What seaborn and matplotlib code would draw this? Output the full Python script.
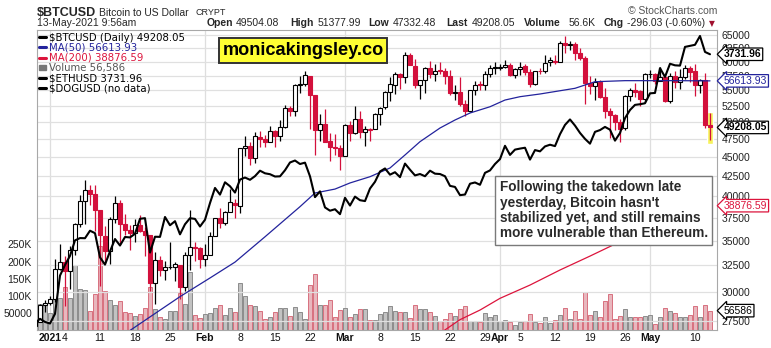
import numpy as np
import pandas as pd
import matplotlib
matplotlib.use("Agg")
import matplotlib.pyplot as plt
import seaborn as sns
from matplotlib.ticker import FixedLocator, NullLocator, FuncFormatter
from matplotlib.lines import Line2D
from matplotlib.patches import Patch
from matplotlib.transforms import blended_transform_factory

# ---------------- data ----------------
dates = pd.date_range("2020-12-29", "2021-05-13", freq="D")

opens = [
    27081, 27360, 28841,
    28994, 29376, 32130, 32810, 31977, 34013, 36834, 39381, 40788, 40254,
    38346, 35516, 33915, 37325, 39156, 36821, 36163, 35792, 36642, 36050,
    35549, 30817, 32986, 32064, 32285, 32358, 32564, 30442, 33498, 34295, 34270,
    33114, 33533, 35510, 37475, 36931, 38138, 39250, 38886, 46184, 46469,
    44898, 47877, 47491, 47114, 48696, 47944, 49207, 52140, 51676, 55887,
    56068, 57532, 54204, 48835, 49709, 47180, 46344, 46194,
    45159, 49612, 48415, 50522, 48527, 48899, 48918, 51174, 52273, 54824,
    55963, 57821, 57343, 61221, 59267, 55840, 56825, 58893, 57850, 58332,
    58309, 57517, 54511, 54710, 52726, 51683, 55137, 55975, 55947, 57750, 58930,
    58927, 59099, 59398, 57604, 58761, 59171, 58187, 56099, 58326, 58253,
    59846, 60175, 59890, 63523, 63075, 63258, 61529, 60701, 56191, 55681,
    56471, 53857, 51739, 51143, 50052, 49077, 54030, 55036, 54858, 53568,
    57714, 57825, 56620, 57215, 53252, 57441, 56413, 57352, 58877, 58250,
    55848, 56714, 49504.08,
]
highs = [
    27370, 28937, 29244,
    29600, 33155, 34608, 33440, 34437, 36879, 40180, 41946, 41436, 41420,
    38346, 36568, 37600, 39966, 39577, 37864, 36722, 37299, 37755, 36416,
    35553, 33811, 33360, 32944, 34802, 32794, 32564, 33858, 38406, 34834, 34288,
    34638, 35896, 37480, 38592, 38225, 40846, 39621, 46203, 48004, 47145,
    48463, 48745, 48047, 49487, 48875, 50341, 52618, 52533, 56114, 57505,
    58330, 57533, 54204, 51290, 51948, 48370, 48253, 46716,
    49784, 50128, 52536, 51735, 49396, 49147, 51384, 52314, 54904, 57258,
    58091, 58011, 61683, 61597, 60540, 56833, 58970, 60116, 59498, 59888,
    58767, 58471, 55985, 57262, 53392, 55137, 56568, 56610, 58343, 59447, 59930,
    59586, 60267, 59792, 58913, 59891, 59479, 58731, 58339, 58937, 61276,
    60790, 61253, 63742, 64863, 63821, 63594, 62572, 61057, 57520, 57062,
    56757, 55411, 52121, 51167, 50506, 54288, 55416, 56227, 55115, 57900,
    58448, 57902, 58973, 57215, 57911, 58364, 58606, 59464, 59210, 59519,
    56872, 57939, 51377.99,
]
lows = [
    25987, 27360, 28201,
    28803, 29091, 32052, 28722, 30221, 33514, 36491, 36838, 38980, 35984,
    30549, 32697, 32584, 36868, 34659, 35633, 34069, 34883, 35900, 33407,
    30071, 28953, 31493, 31106, 32087, 31030, 29367, 30023, 32064, 32940, 32270,
    32384, 33489, 35443, 36317, 36658, 38138, 37446, 38076, 45166, 43881,
    44187, 46424, 46392, 47114, 46347, 47201, 49072, 50902, 50876, 54626,
    55673, 48967, 45290, 47213, 47093, 44454, 45269, 43241,
    45115, 47228, 48274, 47656, 46543, 47257, 48918, 49506, 51981, 53290,
    54484, 55321, 56217, 59302, 55393, 53555, 54528, 57023, 56643, 57830,
    56005, 54288, 53470, 52515, 50856, 51579, 54242, 55072, 55140, 57251, 57727,
    58505, 58870, 57428, 57168, 57694, 57646, 55604, 55879, 57807, 58038,
    59289, 59589, 59869, 61554, 62208, 60222, 60361, 52829, 54368, 53448,
    53695, 50583, 47714, 48805, 47159, 48852, 53319, 53887, 52418, 53129,
    57052, 56141, 56590, 53191, 52969, 55382, 55321, 56975, 56482, 54071,
    54608, 49150, 47332.48,
]
closes = [
    27362, 28840, 29001,
    29374, 32127, 32782, 31971, 33992, 36824, 39371, 40797, 40254, 38356,
    35566, 33922, 37316, 39187, 36825, 36178, 35792, 36630, 36069, 35548,
    30825, 33006, 32068, 32289, 32367, 32569, 30432, 33466, 34316, 34269, 33115,
    33515, 35510, 37473, 36926, 38144, 39266, 38903, 46196, 46481, 44919,
    47910, 47504, 47105, 48717, 47945, 49199, 52149, 51679, 55888, 56100,
    57539, 54207, 48825, 49705, 47093, 46339, 46188, 45137,
    49631, 48378, 50538, 48561, 48927, 48912, 51206, 52246, 54824, 56008,
    57805, 57332, 61243, 59302, 55907, 56804, 58870, 57858, 58346, 58313,
    57523, 54529, 54738, 52774, 51704, 55137, 55974, 55948, 57750, 58917, 58918,
    59095, 59384, 57603, 58758, 59057, 58192, 56048, 58323, 58245, 59793,
    60204, 59893, 63503, 63110, 63314, 61572, 60683, 56216, 55724, 56473,
    53906, 51763, 51093, 50050, 49004, 54021, 55033, 54824, 53555, 57750,
    57828, 56631, 57200, 53333, 57424, 56397, 57356, 58803, 58232, 55859,
    56704, 49504.08, 49208.05,
]
volumes = [
    72000, 75000, 72000,
    50000, 110000, 94000, 125000, 94000, 191000, 121000, 116000, 55000, 104000,
    245000, 113000, 89000, 72000, 86000, 53000, 50000, 40000, 47000, 63000,
    125000, 62000, 37000, 31000, 57000, 57000, 108000, 76000, 169000, 45000, 34000,
    47000, 50000, 63000, 72000, 44000, 63000, 52000, 136000, 98000, 72000,
    69000, 57000, 31000, 37000, 53000, 63000, 65000, 40000, 68000, 53000,
    31000, 131000, 165000, 72000, 72000, 89000, 37000, 59000,
    63000, 39000, 48000, 60000, 60000, 28000, 30000, 47000, 52000, 69000,
    57000, 52000, 53000, 34000, 72000, 60000, 60000, 52000, 40000, 26000,
    31000, 49000, 42000, 60000, 69000, 26000, 26000, 23000, 49000, 37000, 45000,
    26000, 28000, 23000, 16000, 23000, 26000, 48000, 23000, 20000, 37000,
    20000, 28000, 45000, 63000, 31000, 55000, 31000, 110000, 45000, 55000,
    39000, 84000, 104000, 31000, 42000, 60000, 39000, 39000, 39000, 42000,
    45000, 19000, 39000, 63000, 55000, 49000, 39000, 37000, 43000, 69000,
    39000, 72000, 56586,
]
eth_closes = [
    731, 751, 737,
    730, 774, 976, 1041, 1100, 1208, 1225, 1224, 1281, 1262,
    1090, 1043, 1130, 1218, 1171, 1233, 1230, 1257, 1377, 1382,
    1122, 1235, 1234, 1392, 1324, 1357, 1253, 1332, 1382, 1376, 1314,
    1369, 1515, 1660, 1594, 1718, 1677, 1614, 1746, 1768, 1744,
    1783, 1843, 1814, 1804, 1779, 1781, 1848, 1937, 1960, 1919,
    1935, 1781, 1570, 1626, 1475, 1446, 1459, 1416,
    1564, 1492, 1575, 1541, 1533, 1654, 1723, 1834, 1868, 1799,
    1826, 1772, 1924, 1854, 1791, 1806, 1782, 1843, 1810, 1806,
    1782, 1681, 1670, 1589, 1595, 1703, 1716, 1692, 1819, 1846, 1919,
    1977, 2143, 2028, 2094, 2107, 2118, 1971, 2088, 2072, 2135,
    2157, 2139, 2299, 2432, 2514, 2422, 2317, 2235, 2171, 2332,
    2357, 2403, 2363, 2211, 2316, 2534, 2662, 2746, 2757, 2773,
    2945, 2952, 3431, 3253, 3523, 3490, 3484, 3902, 3928, 3952,
    4169, 3785, 3731.96,
]

ma50_dates = ["2021-01-17", "2021-01-27", "2021-02-02", "2021-02-07", "2021-02-13",
              "2021-02-20", "2021-02-23", "2021-02-27", "2021-03-02", "2021-03-06",
              "2021-03-10", "2021-03-13", "2021-03-16", "2021-03-20", "2021-03-23",
              "2021-03-26", "2021-03-30", "2021-04-02", "2021-04-05", "2021-04-09",
              "2021-04-16", "2021-04-20", "2021-04-26", "2021-05-06", "2021-05-13"]
ma50_vals = [26700, 29560, 31270, 32800, 35400, 38760, 40390, 40870, 41630, 42420,
             43550, 45290, 47140, 49120, 50320, 51390, 52370, 53440, 53980, 54420,
             55360, 56470, 56650, 56650, 56613.93]

ma200_dates = ["2021-03-18", "2021-03-24", "2021-03-28", "2021-04-01", "2021-04-07",
               "2021-04-13", "2021-04-19", "2021-04-25", "2021-05-01", "2021-05-07",
               "2021-05-13"]
ma200_vals = [25930, 27580, 28390, 29410, 30610, 32030, 33400, 34880, 36200, 37550,
              38876.59]

price_ticks = list(range(27500, 65001, 2500))
vol_ticks = [50000, 100000, 150000, 200000, 250000]
vol_tick_labels = ["50000", "100K", "150K", "200K", "250K"]
xtick_dates = ["2021-01-01", "2021-01-04", "2021-01-11", "2021-01-18", "2021-01-25",
               "2021-02-01", "2021-02-08", "2021-02-15", "2021-02-22", "2021-03-01",
               "2021-03-08", "2021-03-15", "2021-03-22", "2021-03-29", "2021-04-01",
               "2021-04-05", "2021-04-12", "2021-04-19", "2021-04-26", "2021-05-01",
               "2021-05-10"]
xtick_labels = ["2021", "4", "11", "18", "25", "Feb", "8", "15", "22", "Mar",
                "8", "15", "22", "29", "Apr", "5", "12", "19", "26", "May", "10"]
month_labels = {"2021", "Feb", "Mar", "Apr", "May"}

# ---------------- setup ----------------
sns.set_theme(style="white")
plt.rcParams["font.family"] = ["Liberation Sans", "DejaVu Sans"]

ref = pd.Timestamp("2021-01-01")
def dnum(d):
    return (pd.to_datetime(d) - ref).days

x = np.array((dates - ref).days, dtype=float)
o = np.array(opens, float); h = np.array(highs, float)
l = np.array(lows, float); c = np.array(closes, float)
v = np.array(volumes, float); eth = np.array(eth_closes, float)

df = pd.DataFrame({"x": x, "open": o, "high": h, "low": l, "close": c,
                   "volume": v, "eth": eth})
ma50 = pd.DataFrame({"x": [dnum(d) for d in ma50_dates], "val": ma50_vals})
ma200 = pd.DataFrame({"x": [dnum(d) for d in ma200_dates], "val": ma200_vals})

RED = "#D3103C"
prev = np.r_[o[0], c[:-1]]
down = c < prev
col = np.where(down, RED, "black")
face = np.where(c < o, col, "white")

W, H = 771, 348
fig = plt.figure(figsize=(W / 100, H / 100), dpi=100)
rect = [36.7 / W, 1 - 330 / H, 680 / W, 300 / H]
ax = fig.add_axes(rect)
ax_vol = ax.twinx()
ax_eth = ax.twinx()
ax_vol.set_zorder(0)
ax.set_zorder(1)
ax_eth.set_zorder(2)
ax_vol.patch.set_visible(True)
ax_vol.patch.set_facecolor("white")
ax.patch.set_visible(False)
ax_eth.patch.set_visible(False)

xlim = (-2.66, 133.34)

# ---------------- volume ----------------
vol_face = np.where(down, "#E8B7BE", "#C2C2C2")
vol_edge = np.where(down, "#D8707F", "#8C8C8C")
ax_vol.bar(df["x"], df["volume"], width=0.86, color=vol_face, edgecolor=vol_edge,
           linewidth=0.7)
ax_vol.set_ylim(0, 877000)
ax_vol.yaxis.tick_left()
ax_vol.yaxis.set_major_locator(FixedLocator(vol_ticks))
ax_vol.set_yticklabels(vol_tick_labels)
ax_vol.tick_params(axis="y", length=0, pad=3.5, labelsize=7.5, labelcolor="#222222")
for d in ["2021-01-01", "2021-02-01", "2021-03-01", "2021-04-01", "2021-05-01"]:
    ax_vol.axvline(dnum(d), color="#DEDEDE", lw=0.9, zorder=0)

# ---------------- price ----------------
ax.set_yscale("log")
ax.set_ylim(26735, 65987)
ax.set_axisbelow(True)
ax.yaxis.grid(True, color="#E0E0E0", lw=0.9)
ax.xaxis.grid(False)
# highlight last bar
ax.bar(x[-1], h[-1] * 1.002 - l[-1] * 0.988, bottom=l[-1] * 0.988, width=1.35,
       color="#F6F25A", zorder=2)
ax.vlines(df["x"], df["low"], df["high"], colors=col, lw=0.9, zorder=3)
body_h = np.maximum(np.abs(c - o), c * 0.0018)
ax.bar(df["x"], body_h, bottom=np.minimum(o, c), width=0.72, color=face,
       edgecolor=col, linewidth=0.8, zorder=4)
sns.lineplot(data=ma50, x="x", y="val", ax=ax, color="#23239C", lw=0.9, zorder=5)
sns.lineplot(data=ma200, x="x", y="val", ax=ax, color="#DC143C", lw=0.9, zorder=5)
ax.yaxis.tick_right()
ax.yaxis.set_major_locator(FixedLocator(price_ticks))
ax.yaxis.set_minor_locator(NullLocator())
ax.yaxis.set_major_formatter(FuncFormatter(lambda val, p: f"{val:.0f}"))
ax.tick_params(axis="y", length=0, pad=3.5, labelsize=7.5, labelcolor="#222222")
ax.set_xlim(*xlim)
ax.set_xticks([dnum(d) for d in xtick_dates])
ax.set_xticklabels(xtick_labels)
ax.tick_params(axis="x", length=0, pad=2, labelsize=7.5, labelcolor="#111111")
for t in ax.get_xticklabels():
    if t.get_text() in month_labels:
        t.set_fontweight("bold")
ax.set_xlabel(""); ax.set_ylabel("")
ax_vol.set_ylabel("")
for sp in ax.spines.values():
    sp.set_color("#A8A8A8"); sp.set_linewidth(0.8)
for a in (ax_vol, ax_eth):
    for sp in a.spines.values():
        sp.set_visible(False)

# ---------------- ETH overlay ----------------
sns.lineplot(data=df, x="x", y="eth", ax=ax_eth, color="black", lw=1.5)
ax_eth.set_yscale("log")
ax_eth.set_ylim(701.8, 4323)
ax_eth.yaxis.set_major_locator(NullLocator())
ax_eth.yaxis.set_minor_locator(NullLocator())
ax_eth.set_ylabel("")
ax_eth.set_xlim(*xlim)

# ---------------- legend ----------------
handles = [Line2D([], [], color="black", lw=2.2),
           Line2D([], [], color="#23239C", lw=2.2),
           Line2D([], [], color="#DC143C", lw=2.2),
           Patch(facecolor="#777777", edgecolor="#777777"),
           Line2D([], [], color="black", lw=2.2),
           Line2D([], [], color="black", lw=2.2)]
labels = [f"$BTCUSD (Daily) {c[-1]:.2f}", f"MA(50) {ma50_vals[-1]:.2f}",
          f"MA(200) {ma200_vals[-1]:.2f}", f"Volume {int(v[-1]):,}",
          f"$ETHUSD {eth[-1]:.2f}", "$DOGUSD (no data)"]
leg = ax_eth.legend(handles, labels, loc="upper left", bbox_to_anchor=(0.0, 1.0),
                    frameon=False, borderaxespad=0.1, borderpad=0.15,
                    handlelength=0.7, handleheight=0.5, handletextpad=0.3,
                    labelspacing=0.02,
                    prop={"family": "DejaVu Sans", "size": 7.3},
                    labelcolor=["black", "#23239C", "#DC143C", "#555555", "black", "black"])

# ---------------- boxes ----------------
ax_eth.text(0.3916, 0.9317, "monicakingsley.co", transform=ax.transAxes,
            ha="center", va="center", fontsize=13.1, fontweight="bold", color="black",
            bbox=dict(boxstyle="square,pad=0.2", fc="#FFFF33", ec="#333333", lw=1.4),
            zorder=20)
ax_eth.text(0.6806, 0.4995,
            "Following the takedown late\nyesterday, Bitcoin hasn't\n"
            "stabilized yet, and still remains\nmore vulnerable than Ethereum.",
            transform=ax.transAxes, ha="left", va="top", fontsize=9.8,
            fontweight="bold", color="#2A2A2A", linespacing=1.13,
            bbox=dict(boxstyle="square,pad=0.33", fc="white", ec="#7A7A7A", lw=1.0),
            zorder=20)

# ---------------- right side value labels ----------------
def side_label(src_ax, val, text, ec, tc, bold=False):
    tr = blended_transform_factory(ax.transAxes, src_ax.transData)
    ax_eth.text(1.0105, val, text, transform=tr, ha="left", va="center",
                fontsize=7.5, color=tc, fontweight="bold" if bold else "normal",
                bbox=dict(boxstyle="larrow,pad=0.12", fc="white", ec=ec, lw=0.9),
                clip_on=False, zorder=30)

side_label(ax_eth, eth[-1], f"{eth[-1]:.2f}", "black", "black", bold=True)
side_label(ax, ma50_vals[-1], f"{ma50_vals[-1]:.2f}", "#23239C", "#23239C")
side_label(ax, c[-1], f"{c[-1]:.2f}", "black", "black", bold=True)
side_label(ax, ma200_vals[-1], f"{ma200_vals[-1]:.2f}", "#DC143C", "#DC143C")
side_label(ax_vol, v[-1], f"{int(v[-1])}", "black", "black")

# ---------------- header ----------------
def ftxt(px, py, s, **kw):
    fig.text(px / W, 1 - py / H, s, va="baseline", ha="left", **kw)

ftxt(37, 15.5, "$BTCUSD", fontsize=9.0, fontweight="bold")
ftxt(99, 15.5, "Bitcoin to US Dollar", fontsize=7.5)
ftxt(196, 15.0, "CRYPT", fontsize=6.5)
ftxt(628, 14.0, "© StockCharts.com", fontsize=7.5, color="#555555")
ftxt(37, 26.5, "13-May-2021 9:56am", fontsize=7.5)
chg = c[-1] - c[-2]
pct = chg / c[-2] * 100
pieces = [(207, "Open", True), (236, f"{o[-1]:.2f}", False),
          (290, "High", True), (318, f"{h[-1]:.2f}", False),
          (368, "Low", True), (393, f"{l[-1]:.2f}", False),
          (446, "Last", True), (472, f"{c[-1]:.2f}", False),
          (524, "Volume", True), (569, f"{v[-1] / 1000:.1f}K", False),
          (604, "Chg", True), (627, f"{chg:.2f} ({pct:.2f}%)", False)]
for px, s, b in pieces:
    ftxt(px, 26.5, s, fontsize=7.5, fontweight="bold" if b else "normal")
ftxt(709, 26.0, "▼", fontsize=5.5, color="#A0102E", family=["DejaVu Sans"])

fig.savefig("out.png", dpi=100)
